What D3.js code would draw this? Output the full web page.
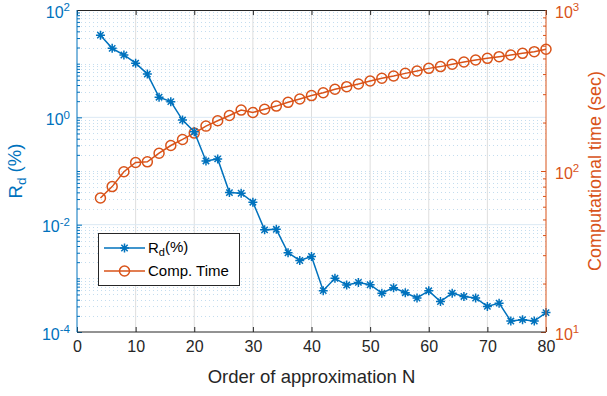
<!DOCTYPE html>
<html>
<head>
<meta charset="utf-8">
<script src="https://cdn.jsdelivr.net/npm/d3@7"></script>
<style>
  body { margin: 0; background: #fff; }
  svg { display: block; font-family: "Liberation Sans", Arial, sans-serif; }
</style>
</head>
<body>
<svg width="607" height="396"></svg>
<script>
// order of approximation
var orderN = [4, 6, 8, 10, 12, 14, 16, 18, 20, 22, 24, 26, 28, 30, 32, 34, 36, 38, 40,
  42, 44, 46, 48, 50, 52, 54, 56, 58, 60, 62, 64, 66, 68, 70, 72, 74, 76, 78, 80];

// R_d (%)
var rdValues = [34, 19.3, 14.5, 10.2, 6.4, 2.37, 1.96, 0.89, 0.54, 0.154, 0.168, 0.0396, 0.0385,
  0.0262, 0.0080, 0.0082, 0.0030, 0.00215, 0.00255, 5.9e-4, 1.0e-3, 7.5e-4, 8.4e-4, 7.6e-4,
  5.3e-4, 6.7e-4, 5.4e-4, 4.3e-4, 5.85e-4, 3.7e-4, 5.3e-4, 4.6e-4, 4.3e-4, 3.0e-4, 3.45e-4,
  1.6e-4, 1.7e-4, 1.6e-4, 2.3e-4];

// computational time (sec)
var timeValues = [68, 80, 99, 113, 114, 129, 144, 157, 172, 190, 205, 221, 239, 231, 242, 253,
  267, 280, 294, 306, 322, 334, 347, 362, 377, 389, 404, 418, 434, 445, 460, 475, 489, 501,
  513, 525, 538, 551, 570];

var xTicks = [0, 10, 20, 30, 40, 50, 60, 70, 80];
var leftTicks = [1e-4, 1e-2, 1e0, 1e2];
var leftTickExp = ["-4", "-2", "0", "2"];
var rightTicks = [1e1, 1e2, 1e3];
var rightTickExp = ["1", "2", "3"];

var blue = "#0072BD", orange = "#D95319", dark = "#262626";

var svg = d3.select("svg"),
  margin = {top: 10, right: 61, bottom: 64, left: 77},
  width = +svg.attr("width") - margin.left - margin.right,
  height = +svg.attr("height") - margin.top - margin.bottom;

var x = d3.scaleLinear().domain([0, 80]).range([0, width]),
  yL = d3.scaleLog().domain([1e-4, 1e2]).range([height, 0]),
  yR = d3.scaleLog().domain([1e1, 1e3]).range([height, 0]);

var g = svg.append("g")
  .attr("transform", "translate(" + margin.left + "," + margin.top + ")");

// minor log values
function minorVals(lo, hi) {
  var out = [];
  for (var e = lo; e < hi; e++) {
    for (var k = 1; k < 10; k++) out.push(k * Math.pow(10, e));
  }
  out.push(Math.pow(10, hi));
  return out;
}
var leftMinor = minorVals(-4, 2).filter(function(v) {
  return !leftTicks.some(function(t) { return Math.abs(v / t - 1) < 1e-9; });
});
var rightMinor = minorVals(1, 3);

// grid
var grid = g.append("g");
grid.selectAll(".ming").data(leftMinor).enter().append("line")
  .attr("x1", 0).attr("x2", width)
  .attr("y1", function(d) { return Math.round(yL(d)) + 0.5; })
  .attr("y2", function(d) { return Math.round(yL(d)) + 0.5; })
  .attr("stroke", "#c4ddef").attr("stroke-width", 1)
  .attr("stroke-dasharray", "1,3");
grid.selectAll(".xg").data(xTicks.slice(1, -1)).enter().append("line")
  .attr("x1", function(d) { return x(d); }).attr("x2", function(d) { return x(d); })
  .attr("y1", 0).attr("y2", height)
  .attr("stroke", "#dedede").attr("stroke-width", 1);
grid.selectAll(".yg").data(leftTicks.slice(1, -1)).enter().append("line")
  .attr("x1", 0).attr("x2", width)
  .attr("y1", function(d) { return yL(d); }).attr("y2", function(d) { return yL(d); })
  .attr("stroke", "#dbe9f4").attr("stroke-width", 1);

// lines
var lineRd = d3.line()
  .x(function(d, i) { return x(orderN[i]); })
  .y(function(d) { return yL(d); });
var lineT = d3.line()
  .x(function(d, i) { return x(orderN[i]); })
  .y(function(d) { return yR(d); });

function starPath(s) {
  var d = s * 0.7071;
  return "M" + (-s) + ",0L" + s + ",0M0," + (-s) + "L0," + s +
    "M" + (-d) + "," + (-d) + "L" + d + "," + d +
    "M" + (-d) + "," + d + "L" + d + "," + (-d);
}

g.append("path").datum(timeValues)
  .attr("fill", "none").attr("stroke", orange).attr("stroke-width", 1.5)
  .attr("d", lineT);
g.selectAll(".circ").data(timeValues).enter().append("circle")
  .attr("cx", function(d, i) { return x(orderN[i]); })
  .attr("cy", function(d) { return yR(d); })
  .attr("r", 5)
  .attr("fill", "none").attr("stroke", orange).attr("stroke-width", 1.5);

g.append("path").datum(rdValues)
  .attr("fill", "none").attr("stroke", blue).attr("stroke-width", 1.5)
  .attr("d", lineRd);
g.selectAll(".star").data(rdValues).enter().append("path")
  .attr("transform", function(d, i) { return "translate(" + x(orderN[i]) + "," + yL(d) + ")"; })
  .attr("d", starPath(4.5))
  .attr("fill", "none").attr("stroke", blue).attr("stroke-width", 1.5);

// axes
function styleAxis(sel, color) {
  sel.select(".domain").remove();
  sel.selectAll("line").attr("stroke", color);
  sel.selectAll("text").attr("fill", color).style("font-size", "16px");
}
function supLabels(sel, exps) {
  sel.selectAll(".tick text").each(function(d, i) {
    var t = d3.select(this).text("10");
    t.append("tspan").attr("dy", "-0.55em").style("font-size", "11.5px").text(exps[i]);
  });
}

var xAxis = g.append("g")
  .attr("transform", "translate(0," + height + ")")
  .call(d3.axisBottom(x).tickValues(xTicks).tickSize(-5).tickPadding(9));
styleAxis(xAxis, dark);
g.append("g")
  .call(d3.axisTop(x).tickValues(xTicks).tickSize(-5).tickFormat(""))
  .call(function(s) { styleAxis(s, dark); });

var lAxis = g.append("g")
  .call(d3.axisLeft(yL).tickValues(leftTicks).tickSize(-5).tickPadding(7));
styleAxis(lAxis, blue);
supLabels(lAxis, leftTickExp);
lAxis.selectAll(".tick text").attr("dy", "0.45em");
g.append("g")
  .call(d3.axisLeft(yL).tickValues(leftMinor).tickSize(-3).tickFormat(""))
  .call(function(s) { styleAxis(s, blue); });

var rAxis = g.append("g")
  .attr("transform", "translate(" + width + ",0)")
  .call(d3.axisRight(yR).tickValues(rightTicks).tickSize(-5).tickPadding(9));
styleAxis(rAxis, orange);
supLabels(rAxis, rightTickExp);
rAxis.selectAll(".tick text").attr("dy", "0.45em");
g.append("g")
  .attr("transform", "translate(" + width + ",0)")
  .call(d3.axisRight(yR).tickValues(rightMinor).tickSize(-3).tickFormat(""))
  .call(function(s) { styleAxis(s, orange); });

// box
g.append("line").attr("x1", 0).attr("x2", width).attr("y1", 0.5).attr("y2", 0.5)
  .attr("stroke", dark);
g.append("line").attr("x1", 0).attr("x2", width).attr("y1", height).attr("y2", height)
  .attr("stroke", dark);
g.append("line").attr("x1", 0).attr("x2", 0).attr("y1", 0).attr("y2", height)
  .attr("stroke", blue);
g.append("line").attr("x1", width).attr("x2", width).attr("y1", 0).attr("y2", height)
  .attr("stroke", orange);

// axis titles
g.append("text")
  .attr("x", width / 2).attr("y", height + 51)
  .attr("text-anchor", "middle").attr("fill", dark)
  .style("font-size", "18.5px")
  .text("Order of approximation N");

var lt = g.append("text")
  .attr("transform", "translate(" + (-55) + "," + (height / 2) + ") rotate(-90)")
  .attr("text-anchor", "middle").attr("fill", blue)
  .style("font-size", "18.5px");
lt.append("tspan").text("R");
lt.append("tspan").attr("dy", "0.3em").style("font-size", "13.5px").text("d");
lt.append("tspan").attr("dy", "-0.3em").text(" (%)");

g.append("text")
  .attr("transform", "translate(" + (width + 55) + "," + (height / 2) + ") rotate(-90)")
  .attr("text-anchor", "middle").attr("fill", orange)
  .style("font-size", "18px")
  .text("Computational time (sec)");

// legend
var leg = g.append("g").attr("transform", "translate(21,223)");
leg.append("rect").attr("x", 0.5).attr("y", 0.5).attr("width", 141).attr("height", 52)
  .attr("fill", "#fff").attr("stroke", dark).attr("stroke-width", 1);
leg.append("line").attr("x1", 6).attr("x2", 47).attr("y1", 15).attr("y2", 15)
  .attr("stroke", blue).attr("stroke-width", 1.5);
leg.append("path").attr("transform", "translate(26.5,15)").attr("d", starPath(4.5))
  .attr("fill", "none").attr("stroke", blue).attr("stroke-width", 1.5);
leg.append("line").attr("x1", 6).attr("x2", 47).attr("y1", 38).attr("y2", 38)
  .attr("stroke", orange).attr("stroke-width", 1.5);
leg.append("circle").attr("cx", 26.5).attr("cy", 38).attr("r", 5)
  .attr("fill", "none").attr("stroke", orange).attr("stroke-width", 1.5);
var l1 = leg.append("text").attr("x", 50).attr("y", 20).attr("fill", "#000")
  .style("font-size", "15px");
l1.append("tspan").text("R");
l1.append("tspan").attr("dy", "0.3em").style("font-size", "11px").text("d");
l1.append("tspan").attr("dy", "-0.3em").text("(%)");
leg.append("text").attr("x", 50).attr("y", 43).attr("fill", "#000")
  .style("font-size", "15px").text("Comp. Time");
</script>
</body>
</html>
